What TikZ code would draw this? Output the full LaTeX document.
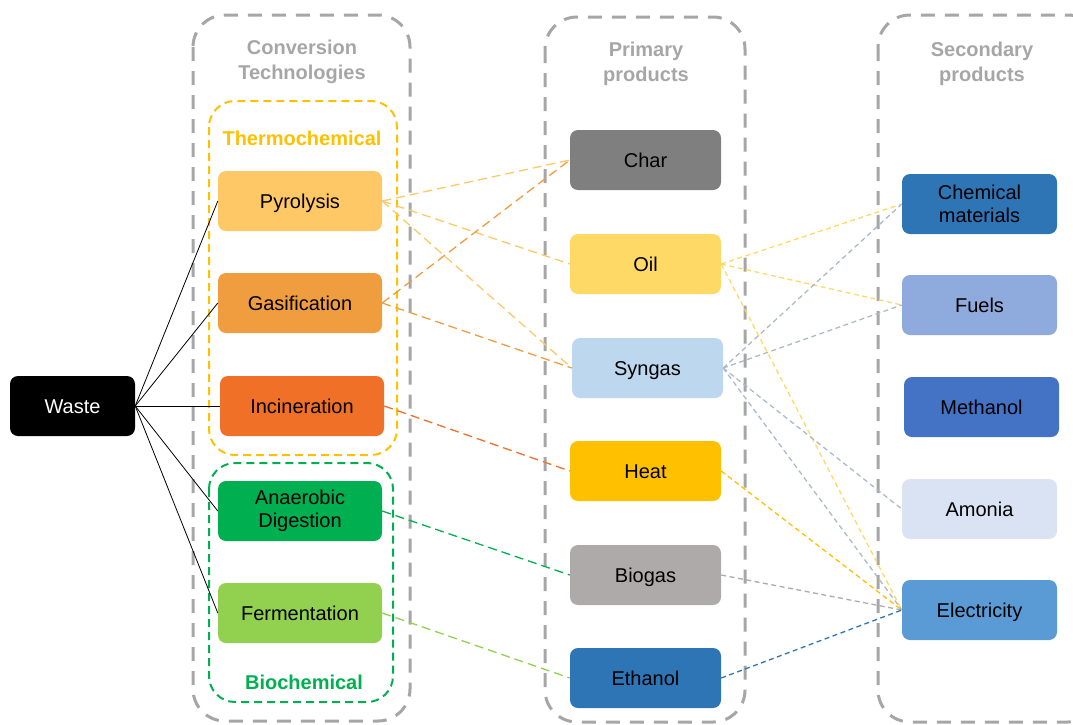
\documentclass[tikz,border=0pt]{standalone}
\usepackage{fontspec}
\setmainfont{Liberation Sans}
\definecolor{cgray}{HTML}{A6A6A6}
\definecolor{cthermo}{HTML}{FFC000}
\definecolor{cbio}{HTML}{00B050}
\definecolor{cpyro}{HTML}{FFC866}
\definecolor{cgasi}{HTML}{F09D40}
\definecolor{cinci}{HTML}{F07028}
\definecolor{cana}{HTML}{00B050}
\definecolor{cferm}{HTML}{92D050}
\definecolor{cchar}{HTML}{7F7F7F}
\definecolor{coil}{HTML}{FFD966}
\definecolor{csyn}{HTML}{BDD7EE}
\definecolor{cheat}{HTML}{FFC000}
\definecolor{cbiog}{HTML}{AEAAAA}
\definecolor{ceth}{HTML}{2E75B6}
\definecolor{cchem}{HTML}{2E75B6}
\definecolor{cfuel}{HTML}{8FAADC}
\definecolor{cmeth}{HTML}{4472C4}
\definecolor{camon}{HTML}{DAE3F3}
\definecolor{celec}{HTML}{5B9BD5}
\definecolor{csynl}{HTML}{ADB9CA}
\tikzset{
  every node/.style={font=\fontsize{20}{24}\selectfont},
  box/.style={rounded corners=8pt, minimum height=60pt, inner sep=0pt, align=center},
  oneline/.style={text height=14.5pt, text depth=0pt},
  techbox/.style={box, minimum width=164pt},
  prodbox/.style={box, oneline, minimum width=151pt},
  secbox/.style={box, minimum width=155pt},
  container/.style={draw=cgray, line width=3pt, dash pattern=on 14pt off 10pt, rounded corners=32pt},
  group/.style={line width=2pt, dash pattern=on 8pt off 5pt, rounded corners=26pt},
  title/.style={text=cgray, font=\fontsize{20}{25}\selectfont\bfseries, align=center},
  wire/.style={black, line width=0.8pt},
  link/.style={line width=1.3pt, dash pattern=on 9pt off 5pt},
  link2/.style={line width=1.3pt, dash pattern=on 5pt off 3.5pt},
}
\begin{document}
\begin{tikzpicture}[x=1pt,y=-1pt]
\useasboundingbox (0,0) rectangle (1073,724);
\clip (0,0) rectangle (1073,724);
% containers
\draw[container] (193,15) rectangle (410,721);
\draw[container] (545,17) rectangle (745,722);
\draw[container] (878,15) rectangle (1100,722);
\node[title] (t1) at (302,62) {Conversion\\Technologies};
\node[title] (t2) at (646,64) {Primary\\products};
\node[title] (t3) at (982,64) {Secondary\\products};
% groups
\draw[group, draw=cthermo] (209,101) rectangle (397,455);
\draw[group, draw=cbio] (209,463) rectangle (393,702);
\node[text=cthermo, font=\fontsize{20}{24}\selectfont\bfseries] (thermo) at (302,138) {Thermochemical};
\node[text=cbio, font=\fontsize{20}{24}\selectfont\bfseries] (bio) at (304,682) {Biochemical};
% nodes
\node[box, oneline, fill=black, text=white, minimum width=125pt] (waste) at (72.5,406) {Waste};
\node[techbox, oneline, fill=cpyro] (pyro) at (300,201) {Pyrolysis};
\node[techbox, oneline, fill=cgasi] (gasi) at (300,303) {Gasification};
\node[techbox, oneline, fill=cinci] (inci) at (302,406) {Incineration};
\node[techbox, fill=cana] (ana) at (300,511) {Anaerobic\\[-1pt]Digestion};
\node[techbox, oneline, fill=cferm] (ferm) at (300,613) {Fermentation};
\node[prodbox, fill=cchar] (char) at (645.5,160) {Char};
\node[prodbox, fill=coil] (oil) at (645.5,264) {Oil};
\node[prodbox, fill=csyn] (syn) at (647.5,368) {Syngas};
\node[prodbox, fill=cheat] (heat) at (645.5,471) {Heat};
\node[prodbox, fill=cbiog] (biog) at (645.5,575) {Biogas};
\node[prodbox, fill=ceth] (eth) at (645.5,678) {Ethanol};
\node[secbox, fill=cchem] (chem) at (979.5,204) {Chemical\\[-1pt]materials};
\node[secbox, oneline, fill=cfuel] (fuel) at (979.5,305) {Fuels};
\node[secbox, oneline, fill=cmeth] (meth) at (981.5,407) {Methanol};
\node[secbox, oneline, fill=camon] (amon) at (979.5,509) {Amonia};
\node[secbox, oneline, fill=celec] (elec) at (979.5,610) {Electricity};
% waste wires
\foreach \t in {pyro,gasi,inci,ana,ferm}
  \draw[wire] (waste.east) -- (\t.west);
% tech -> primary
\draw[link, cpyro] (pyro.east) -- (char.west);
\draw[link, cpyro] (pyro.east) -- (oil.west);
\draw[link, cpyro] (pyro.east) -- (syn.west);
\draw[link, cgasi] (gasi.east) -- (char.west);
\draw[link, cgasi] (gasi.east) -- (syn.west);
\draw[link, cinci] (inci.east) -- (heat.west);
\draw[link, cana] (ana.east) -- (biog.west);
\draw[link, cferm] (ferm.east) -- (eth.west);
% primary -> secondary
\draw[link2, coil] (oil.east) -- (chem.west);
\draw[link2, coil] (oil.east) -- (fuel.west);
\draw[link2, coil] (oil.east) -- (elec.west);
\draw[link2, csynl] (syn.east) -- (chem.west);
\draw[link2, csynl] (syn.east) -- (fuel.west);
\draw[link2, csynl] (syn.east) -- (amon.west);
\draw[link2, csynl] (syn.east) -- (elec.west);
\draw[link2, cheat] (heat.east) -- (elec.west);
\draw[link2, cbiog] (biog.east) -- (elec.west);
\draw[link2, ceth] (eth.east) -- (elec.west);
\end{tikzpicture}
\end{document}
